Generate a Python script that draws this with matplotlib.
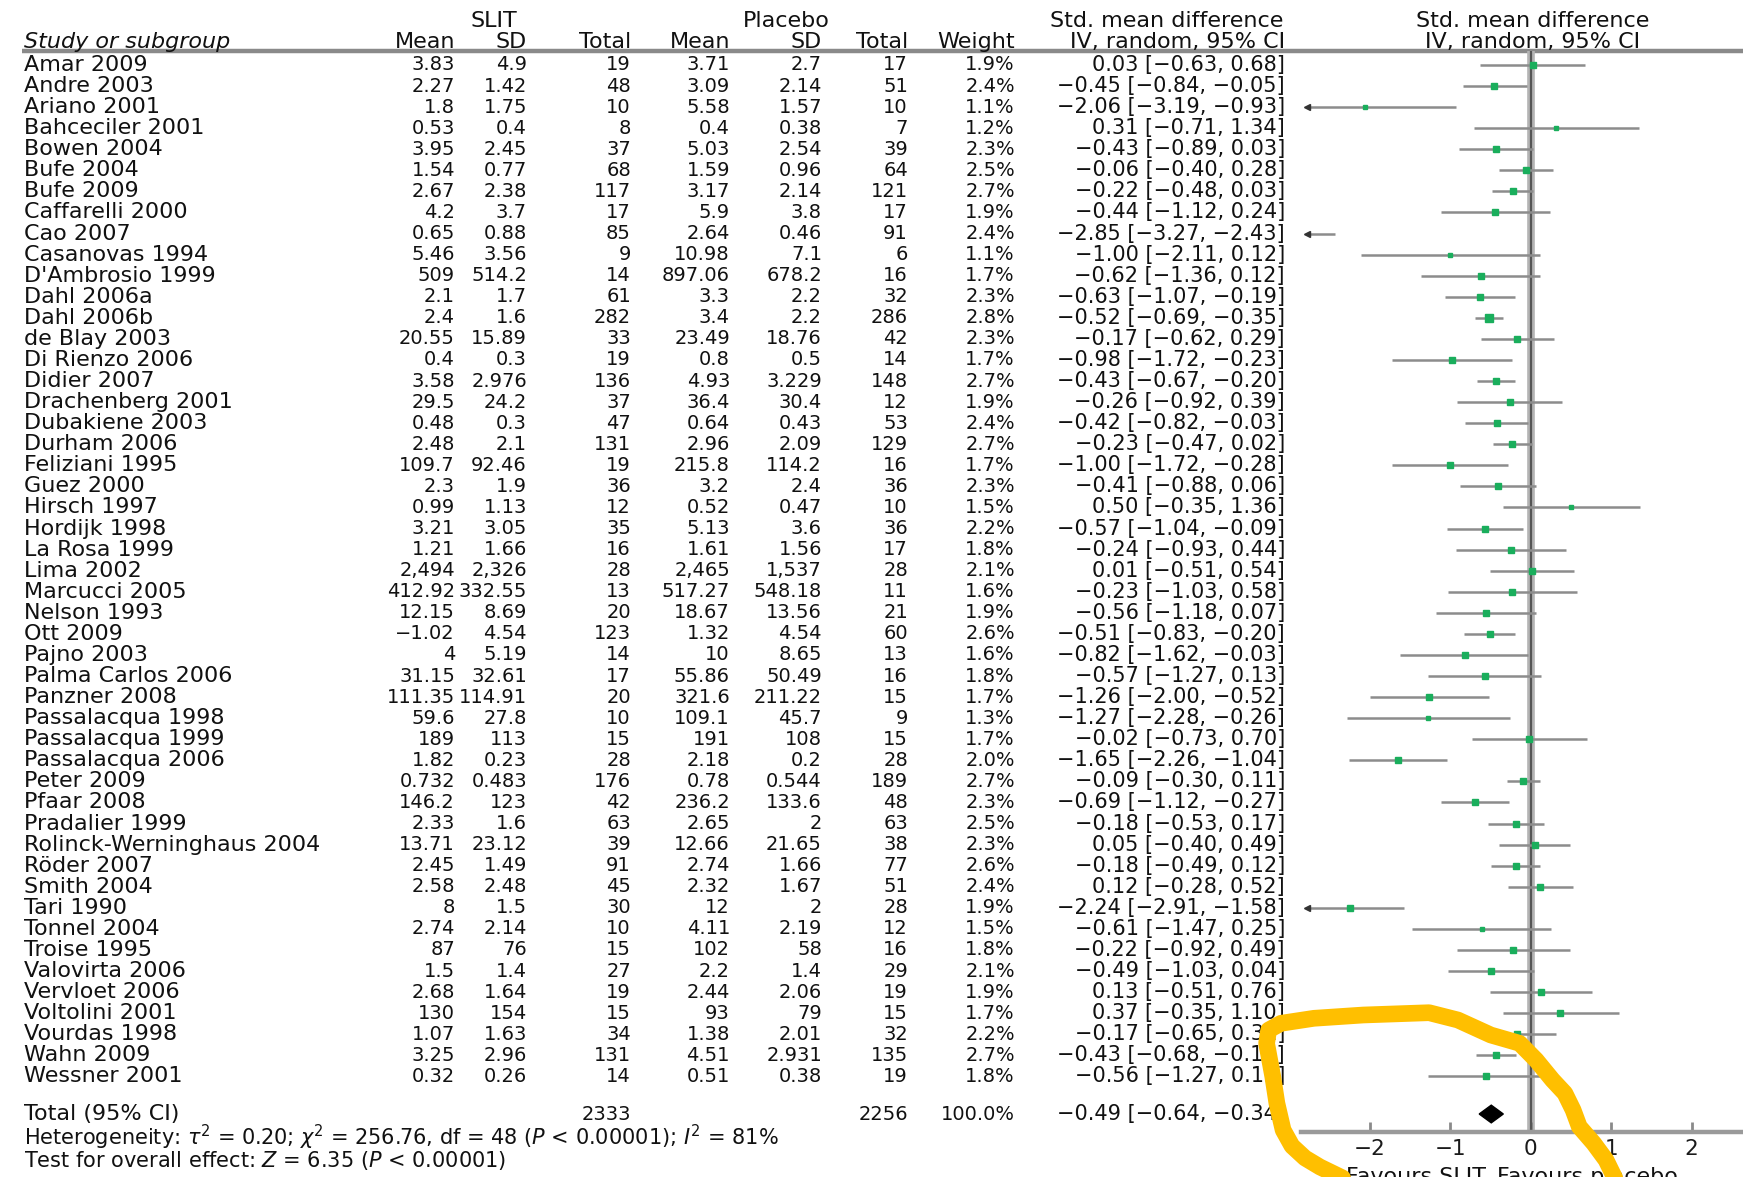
import matplotlib
matplotlib.use("Agg")
import matplotlib.pyplot as plt
from matplotlib.lines import Line2D

plt.rcParams['font.family'] = ['DejaVu Sans']
plt.rcParams['mathtext.fontset'] = 'dejavusans'

studies = ["Amar 2009", "Andre 2003", "Ariano 2001", "Bahceciler 2001", "Bowen 2004",
           "Bufe 2004", "Bufe 2009", "Caffarelli 2000", "Cao 2007", "Casanovas 1994",
           "D'Ambrosio 1999", "Dahl 2006a", "Dahl 2006b", "de Blay 2003", "Di Rienzo 2006",
           "Didier 2007", "Drachenberg 2001", "Dubakiene 2003", "Durham 2006", "Feliziani 1995",
           "Guez 2000", "Hirsch 1997", "Hordijk 1998", "La Rosa 1999", "Lima 2002",
           "Marcucci 2005", "Nelson 1993", "Ott 2009", "Pajno 2003", "Palma Carlos 2006",
           "Panzner 2008", "Passalacqua 1998", "Passalacqua 1999", "Passalacqua 2006", "Peter 2009",
           "Pfaar 2008", "Pradalier 1999", "Rolinck-Werninghaus 2004", "Röder 2007", "Smith 2004",
           "Tari 1990", "Tonnel 2004", "Troise 1995", "Valovirta 2006", "Vervloet 2006",
           "Voltolini 2001", "Vourdas 1998", "Wahn 2009", "Wessner 2001"]

slit_mean = ["3.83", "2.27", "1.8", "0.53", "3.95", "1.54", "2.67", "4.2", "0.65", "5.46",
             "509", "2.1", "2.4", "20.55", "0.4", "3.58", "29.5", "0.48", "2.48", "109.7",
             "2.3", "0.99", "3.21", "1.21", "2,494", "412.92", "12.15", "−1.02", "4", "31.15",
             "111.35", "59.6", "189", "1.82", "0.732", "146.2", "2.33", "13.71", "2.45", "2.58",
             "8", "2.74", "87", "1.5", "2.68", "130", "1.07", "3.25", "0.32"]
slit_sd = ["4.9", "1.42", "1.75", "0.4", "2.45", "0.77", "2.38", "3.7", "0.88", "3.56",
           "514.2", "1.7", "1.6", "15.89", "0.3", "2.976", "24.2", "0.3", "2.1", "92.46",
           "1.9", "1.13", "3.05", "1.66", "2,326", "332.55", "8.69", "4.54", "5.19", "32.61",
           "114.91", "27.8", "113", "0.23", "0.483", "123", "1.6", "23.12", "1.49", "2.48",
           "1.5", "2.14", "76", "1.4", "1.64", "154", "1.63", "2.96", "0.26"]
slit_n = [19, 48, 10, 8, 37, 68, 117, 17, 85, 9, 14, 61, 282, 33, 19, 136, 37, 47, 131, 19,
          36, 12, 35, 16, 28, 13, 20, 123, 14, 17, 20, 10, 15, 28, 176, 42, 63, 39, 91, 45,
          30, 10, 15, 27, 19, 15, 34, 131, 14]
plac_mean = ["3.71", "3.09", "5.58", "0.4", "5.03", "1.59", "3.17", "5.9", "2.64", "10.98",
             "897.06", "3.3", "3.4", "23.49", "0.8", "4.93", "36.4", "0.64", "2.96", "215.8",
             "3.2", "0.52", "5.13", "1.61", "2,465", "517.27", "18.67", "1.32", "10", "55.86",
             "321.6", "109.1", "191", "2.18", "0.78", "236.2", "2.65", "12.66", "2.74", "2.32",
             "12", "4.11", "102", "2.2", "2.44", "93", "1.38", "4.51", "0.51"]
plac_sd = ["2.7", "2.14", "1.57", "0.38", "2.54", "0.96", "2.14", "3.8", "0.46", "7.1",
           "678.2", "2.2", "2.2", "18.76", "0.5", "3.229", "30.4", "0.43", "2.09", "114.2",
           "2.4", "0.47", "3.6", "1.56", "1,537", "548.18", "13.56", "4.54", "8.65", "50.49",
           "211.22", "45.7", "108", "0.2", "0.544", "133.6", "2", "21.65", "1.66", "1.67",
           "2", "2.19", "58", "1.4", "2.06", "79", "2.01", "2.931", "0.38"]
plac_n = [17, 51, 10, 7, 39, 64, 121, 17, 91, 6, 16, 32, 286, 42, 14, 148, 12, 53, 129, 16,
          36, 10, 36, 17, 28, 11, 21, 60, 13, 16, 15, 9, 15, 28, 189, 48, 63, 38, 77, 51,
          28, 12, 16, 29, 19, 15, 32, 135, 19]
weights = [1.9, 2.4, 1.1, 1.2, 2.3, 2.5, 2.7, 1.9, 2.4, 1.1, 1.7, 2.3, 2.8, 2.3, 1.7, 2.7,
           1.9, 2.4, 2.7, 1.7, 2.3, 1.5, 2.2, 1.8, 2.1, 1.6, 1.9, 2.6, 1.6, 1.8, 1.7, 1.3,
           1.7, 2.0, 2.7, 2.3, 2.5, 2.3, 2.6, 2.4, 1.9, 1.5, 1.8, 2.1, 1.9, 1.7, 2.2, 2.7, 1.8]
smd = [0.03, -0.45, -2.06, 0.31, -0.43, -0.06, -0.22, -0.44, -2.85, -1.00, -0.62, -0.63,
       -0.52, -0.17, -0.98, -0.43, -0.26, -0.42, -0.23, -1.00, -0.41, 0.50, -0.57, -0.24,
       0.01, -0.23, -0.56, -0.51, -0.82, -0.57, -1.26, -1.27, -0.02, -1.65, -0.09, -0.69,
       -0.18, 0.05, -0.18, 0.12, -2.24, -0.61, -0.22, -0.49, 0.13, 0.37, -0.17, -0.43, -0.56]
ci_lo = [-0.63, -0.84, -3.19, -0.71, -0.89, -0.40, -0.48, -1.12, -3.27, -2.11, -1.36, -1.07,
         -0.69, -0.62, -1.72, -0.67, -0.92, -0.82, -0.47, -1.72, -0.88, -0.35, -1.04, -0.93,
         -0.51, -1.03, -1.18, -0.83, -1.62, -1.27, -2.00, -2.28, -0.73, -2.26, -0.30, -1.12,
         -0.53, -0.40, -0.49, -0.28, -2.91, -1.47, -0.92, -1.03, -0.51, -0.35, -0.65, -0.68, -1.27]
ci_hi = [0.68, -0.05, -0.93, 1.34, 0.03, 0.28, 0.03, 0.24, -2.43, 0.12, 0.12, -0.19,
         -0.35, 0.29, -0.23, -0.20, 0.39, -0.03, 0.02, -0.28, 0.06, 1.36, -0.09, 0.44,
         0.54, 0.58, 0.07, -0.20, -0.03, 0.13, -0.52, -0.26, 0.70, -1.04, 0.11, -0.27,
         0.17, 0.49, 0.12, 0.52, -1.58, 0.25, 0.49, 0.04, 0.76, 1.10, 0.31, -0.18, 0.15]

total_slit_n = 2333
total_plac_n = 2256
total_weight = 100.0
total_smd, total_lo, total_hi = -0.49, -0.64, -0.34
xticks = [-2, -1, 0, 1, 2]

heterogeneity = (r"Heterogeneity: $\tau^2$ = 0.20; $\chi^2$ = 256.76, df = 48 "
                 r"($P$ < 0.00001); $I^2$ = 81%")
overall = r"Test for overall effect: $Z$ = 6.35 ($P$ < 0.00001)"

# ---------------- layout ----------------
W, H = 1743, 1177
fig = plt.figure(figsize=(W / 100, H / 100), dpi=100)
ROW0, ROWH = 65.0, 21.07


def row_of(py):
    return (py - ROW0) / ROWH


ytop, ybot = row_of(0), row_of(H)
sep_row = row_of(51)
axis_row = row_of(1132)
total_row = row_of(1114)
het_row = row_of(1137)
test_row = row_of(1161)

ax = fig.add_axes([0, 0, 1, 1])
ax.set_xlim(0, W)
ax.set_ylim(ybot, ytop)
ax.axis('off')

X0, UNIT = 1530.7, 80.5
xl = -2.85
xr = (W + 60 - X0) / UNIT
left_px = X0 + xl * UNIT
axf = fig.add_axes([left_px / W, 0, (W + 60 - left_px) / W, 1])
axf.set_xlim(xl, xr)
axf.set_ylim(ybot, ytop)
axf.patch.set_visible(False)
for s in ['top', 'left', 'right']:
    axf.spines[s].set_visible(False)
axf.spines['bottom'].set_position(('data', axis_row))
axf.spines['bottom'].set_color('#9a9a9a')
axf.spines['bottom'].set_linewidth(3.2)
axf.set_yticks([])
axf.set_xticks(xticks)
axf.set_xticklabels([f"{t}".replace('-', '\u2212') for t in xticks])
axf.tick_params(axis='x', direction='in', length=7, width=2, color='#8a8a8a',
                labelsize=15.5, pad=5, labelcolor='#1a1a1a')

FS_NUM = 14      # numeric columns
FS_TXT = 16      # study names, headers
FS_FOOT = 15     # footnotes
FS_CI = 15       # CI column
TXT = '#111111'

# separator line
ax.hlines(sep_row, 22, W, color='#8a8a8a', lw=3.2)

# headers
h1, h2 = row_of(21), row_of(42)
ax.text(494, h1, "SLIT", ha='center', va='center', fontsize=FS_TXT, color=TXT)
ax.text(786, h1, "Placebo", ha='center', va='center', fontsize=FS_TXT, color=TXT)
ax.text(1283, h1, "Std. mean difference", ha='right', va='center', fontsize=FS_TXT, color=TXT)
ax.text(24, h2, "Study or subgroup", ha='left', va='center', fontsize=FS_TXT, color=TXT,
        style='italic')
col_right = {'m1': 455, 's1': 527, 'n1': 631, 'm2': 730, 's2': 822, 'n2': 908, 'w': 1015,
             'ci': 1285}
for key, lab in [('m1', 'Mean'), ('s1', 'SD'), ('n1', 'Total'), ('m2', 'Mean'),
                 ('s2', 'SD'), ('n2', 'Total'), ('w', 'Weight'), ('ci', 'IV, random, 95% CI')]:
    ax.text(col_right[key], h2, lab, ha='right', va='center', fontsize=FS_TXT, color=TXT)

axf.text(0.02, h1, "Std. mean difference", ha='center', va='center', fontsize=FS_TXT, color=TXT)
axf.text(0.02, h2, "IV, random, 95% CI", ha='center', va='center', fontsize=FS_TXT, color=TXT)


def f2(v):
    return f"{v:.2f}".replace('-', '\u2212')


# table rows
for i, name in enumerate(studies):
    ax.text(24, i, name, ha='left', va='center', fontsize=FS_TXT, color=TXT)
    vals = [slit_mean[i], slit_sd[i], str(slit_n[i]), plac_mean[i], plac_sd[i],
            str(plac_n[i]), f"{weights[i]:.1f}%"]
    for key, v in zip(['m1', 's1', 'n1', 'm2', 's2', 'n2', 'w'], vals):
        ax.text(col_right[key], i, v, ha='right', va='center', fontsize=FS_NUM, color=TXT)
    ax.text(col_right['ci'], i, f"{f2(smd[i])} [{f2(ci_lo[i])}, {f2(ci_hi[i])}]",
            ha='right', va='center', fontsize=FS_CI, color=TXT)

ax.text(24, total_row, "Total (95% CI)", ha='left', va='center', fontsize=FS_TXT, color=TXT)
ax.text(col_right['n1'], total_row, str(total_slit_n), ha='right', va='center',
        fontsize=FS_NUM, color=TXT)
ax.text(col_right['n2'], total_row, str(total_plac_n), ha='right', va='center',
        fontsize=FS_NUM, color=TXT)
ax.text(col_right['w'], total_row, f"{total_weight:.1f}%", ha='right', va='center',
        fontsize=FS_NUM, color=TXT)
ax.text(col_right['ci'], total_row, f"{f2(total_smd)} [{f2(total_lo)}, {f2(total_hi)}]",
        ha='right', va='center', fontsize=FS_CI, color=TXT)
ax.text(24, het_row, heterogeneity, ha='left', va='center', fontsize=FS_FOOT, color=TXT)
ax.text(24, test_row, overall, ha='left', va='center', fontsize=FS_FOOT, color=TXT)

# zero line
axf.vlines(0, sep_row, axis_row, color='#b4b4b4', lw=5.5, zorder=1)
axf.vlines(0, sep_row, axis_row, color='#555555', lw=1.6, zorder=2)

# study CIs and squares
arrow_x = -2.78
for i in range(len(studies)):
    lo = max(ci_lo[i], arrow_x)
    hi = min(ci_hi[i], xr)
    axf.hlines(i, lo, hi, color='#8c8c8c', lw=1.8, zorder=3)
    if ci_lo[i] < xl:
        axf.plot(arrow_x, i, marker='<', color='#333333', ms=5, zorder=4)
    if xl < smd[i] < xr:
        axf.plot(smd[i], i, marker='s', color='#1aae5c', mec='#1aae5c',
                 ms=(2.4 + 1.7 * weights[i]) * 0.72, zorder=5)

# total diamond
dh = 0.42
axf.fill([total_lo, total_smd, total_hi, total_smd],
         [total_row, total_row - dh, total_row, total_row + dh],
         color='black', zorder=5)

# favours labels (partially cut at the bottom, as in the reference)
fav_row = row_of(1167)
ax.text(1486, fav_row, "Favours SLIT", ha='right', va='top', fontsize=16, color=TXT)
ax.text(1497, fav_row, "Favours placebo", ha='left', va='top', fontsize=16, color=TXT)

# hand-drawn highlight scribble
sx = [1355, 1320, 1305, 1292, 1283.1, 1276.9, 1272.8, 1266.6, 1268.7, 1281, 1313.9, 1363.3,
      1429.1, 1457.9, 1490.8, 1519.6, 1536.1, 1552.5, 1564.9, 1573.1, 1579.3, 1593.7, 1606,
      1614.3, 1618]
sy = [1184, 1167, 1158, 1146, 1130, 1103.3, 1076.7, 1043.3, 1030, 1023.3, 1018.3, 1015,
      1012.7, 1020, 1035, 1043.3, 1060, 1080, 1093.3, 1110, 1126.7, 1143.3, 1160, 1177, 1185]
fig.add_artist(Line2D([x / W for x in sx], [1 - y / H for y in sy], transform=fig.transFigure,
                      color='#ffbf00', lw=12, solid_capstyle='round',
                      solid_joinstyle='round', zorder=20))

fig.savefig("out.png", dpi=100)
